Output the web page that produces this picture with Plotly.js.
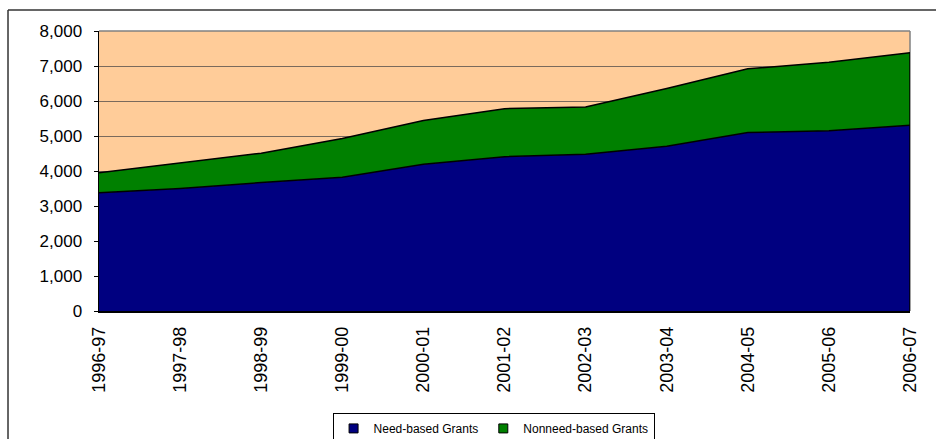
<!DOCTYPE html>
<html>
<head>
<meta charset="utf-8">
<script src="https://cdn.plot.ly/plotly-3.0.1.min.js"></script>
<style>
  html, body { margin: 0; padding: 0; background: #ffffff; }
  #chart { width: 936px; height: 439px; }
</style>
</head>
<body>
<div id="chart"></div>
<script>
// Academic years
const years = ['1996-97', '1997-98', '1998-99', '1999-00', '2000-01', '2001-02',
               '2002-03', '2003-04', '2004-05', '2005-06', '2006-07'];

// Grant amounts per year
const needBased    = [3380, 3500, 3670, 3820, 4190, 4410, 4480, 4710, 5100, 5150, 5310];
const nonneedBased = [ 570,  740,  840, 1110, 1250, 1370, 1350, 1650, 1820, 1960, 2070];

const seriesNames = ['Need-based Grants', 'Nonneed-based Grants'];
const seriesColors = ['#000080', '#008000'];

const font = 'Arial, "Liberation Sans", sans-serif';

const lastIdx = years.length - 1;

const traces = [
  {
    x: years, y: needBased, name: seriesNames[0],
    type: 'scatter', mode: 'lines', stackgroup: 'grants', showlegend: false,
    line: { color: '#000000', width: 1.5 },
    fillcolor: seriesColors[0]
  },
  {
    x: years, y: nonneedBased, name: seriesNames[1],
    type: 'scatter', mode: 'lines', stackgroup: 'grants', showlegend: false,
    line: { color: '#000000', width: 1.5 },
    fillcolor: seriesColors[1]
  },
  // closing edge of the stacked area at the last year
  {
    x: [years[lastIdx], years[lastIdx]],
    y: [0, needBased[lastIdx] + nonneedBased[lastIdx]],
    type: 'scatter', mode: 'lines', showlegend: false, hoverinfo: 'skip',
    line: { color: '#000000', width: 1.5 }
  }
];

// legend entries drawn as small square swatches
seriesNames.forEach((name, i) => {
  traces.push({
    x: [null], y: [null], name: name,
    type: 'scatter', mode: 'markers',
    marker: { symbol: 'square', size: 9, color: seriesColors[i],
              line: { color: '#000000', width: 1 } }
  });
});

const layout = {
  width: 936, height: 439,
  margin: { l: 99, r: 26, t: 31, b: 128, autoexpand: false },
  paper_bgcolor: '#ffffff',
  plot_bgcolor: '#FFCC99',
  font: { family: font, color: '#000000' },
  showlegend: true,
  legend: {
    orientation: 'h',
    x: 0.288, xanchor: 'left',
    y: -0.364, yanchor: 'top',
    bordercolor: '#000000', borderwidth: 1,
    bgcolor: '#ffffff',
    font: { family: font, size: 12, color: '#000000' },
    traceorder: 'normal',
    itemwidth: 30
  },
  xaxis: {
    type: 'category',
    range: [0, lastIdx],
    tickangle: -90,
    tickfont: { family: font, size: 18, color: '#000000' },
    ticklabelstandoff: 7,
    showgrid: false,
    showline: true, linecolor: '#000000', linewidth: 1.5,
    ticks: '', zeroline: false,
    fixedrange: true
  },
  yaxis: {
    range: [0, 8000],
    dtick: 1000,
    tickformat: ',d',
    tickfont: { family: font, size: 17, color: '#000000' },
    ticks: 'outside', ticklen: 4, tickcolor: '#000000', tickwidth: 1,
    ticklabelstandoff: 8,
    showline: true, linecolor: '#000000', linewidth: 1.5,
    showgrid: true, gridcolor: '#7a6a5c', gridwidth: 1,
    zeroline: false,
    fixedrange: true
  },
  shapes: [
    // plot area frame (top and right edges)
    { type: 'line', xref: 'paper', yref: 'paper', x0: 0, x1: 1, y0: 1, y1: 1,
      line: { color: '#808080', width: 1.5 } },
    { type: 'line', xref: 'paper', yref: 'paper', x0: 1, x1: 1, y0: 0, y1: 1,
      line: { color: '#808080', width: 1.5 }, layer: 'below' },
    // outer chart frame
    { type: 'line', xref: 'paper', yref: 'paper', x0: -0.1122, x1: 1.2, y0: 1.075, y1: 1.075,
      line: { color: '#333333', width: 1.5 } },
    { type: 'line', xref: 'paper', yref: 'paper', x0: -0.1122, x1: -0.1122, y0: 1.075, y1: -0.6,
      line: { color: '#333333', width: 1.5 } }
  ]
};

Plotly.newPlot('chart', traces, layout, { displayModeBar: false, staticPlot: true });
</script>
</body>
</html>
